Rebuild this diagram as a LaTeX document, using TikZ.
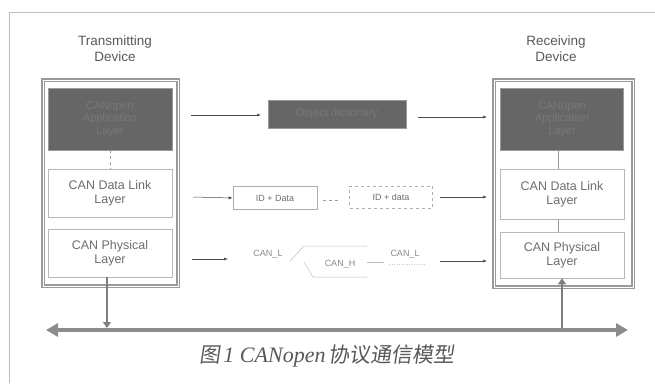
\documentclass[tikz,border=0pt]{standalone}
\usepackage{fontspec}
\setmainfont{Liberation Sans}
\newfontfamily\cjk[FakeSlant=0.15]{Noto Sans CJK SC}
\newfontfamily\capserif{Liberation Serif}
\usetikzlibrary{arrows.meta}
\definecolor{txtgray}{HTML}{6E6E6E}
\definecolor{linegray}{HTML}{9A9A9A}
\definecolor{darkfill}{HTML}{666666}
\definecolor{darktxt}{HTML}{787878}
\definecolor{busgray}{HTML}{8C8C8C}
\tikzset{
  x=1pt, y=-1pt,
  devbox/.style={draw=linegray, line width=1.2pt, double=white, double distance=0.8pt},
  layerbox/.style={draw=linegray!70, line width=0.6pt, fill=white, text=txtgray,
    font=\fontsize{12.5}{14}\selectfont, align=center, inner sep=0pt},
  darkbox/.style={draw=linegray, fill=darkfill, text=darktxt,
    font=\fontsize{11}{12.5}\selectfont, align=center, inner sep=0pt},
  pktbox/.style={draw=linegray!80, line width=0.6pt, fill=white, text=txtgray,
    font=\fontsize{9}{10}\selectfont, inner sep=0pt},
  devlabel/.style={text=black!65, font=\fontsize{13.5}{16}\selectfont, align=center},
  sig/.style={text=txtgray!80, font=\fontsize{9}{10}\selectfont},
  flow/.style={draw=black!70, line width=0.5pt, -{Latex[length=4pt,width=3pt]}},
  link/.style={draw=linegray, line width=0.5pt},
  bus/.style={draw=busgray, line width=4pt, {Triangle[length=12pt,width=13pt]}-{Triangle[length=12pt,width=13pt]}},
  drop/.style={draw=busgray!90!black, line width=2pt}
}
\begin{document}
\begin{tikzpicture}
\useasboundingbox (0,0) rectangle (655,383);
\fill[white] (0,0) rectangle (655,383);
% page frame
\draw[black!25, line width=0.8pt] (9,383) -- (9,12) -- (655,12);

% device titles
\node[devlabel] (ttx) at (115,49) {Transmitting\\Device};
\node[devlabel] (trx) at (556,49) {Receiving\\Device};

% transmitting device
\draw[devbox] (43,80) rectangle (178,286);
\node[darkbox, minimum width=124pt, minimum height=62pt] (tapp) at (110,119) {CANopen\\Application\\Layer};
\node[layerbox, minimum width=124pt, minimum height=48pt] (tdl) at (110,193) {CAN Data Link\\Layer};
\node[layerbox, minimum width=124pt, minimum height=48pt] (tph) at (110,253) {CAN Physical\\Layer};
\draw[link, dashed] (tapp.south) -- (tdl.north);

% receiving device
\draw[devbox] (494,80) rectangle (633,287);
\node[darkbox, minimum width=123pt, minimum height=62pt] (rapp) at (562,119) {CANopen\\Application\\Layer};
\node[layerbox, minimum width=124pt, minimum height=50pt] (rdl) at (562,194) {CAN Data Link\\Layer};
\node[layerbox, minimum width=124pt, minimum height=46pt] (rph) at (562,255) {CAN Physical\\Layer};
\draw[link] (rapp.south -| 558,0) -- (558,169);
\draw[link] (558,219) -- (558,232);

% application level exchange
\node[darkbox, minimum width=138pt, minimum height=28pt] (od) at (337,114) {Object dictionary};
\coordinate (a1) at (191,115);
\coordinate (a0) at (261,115);
\coordinate (a2) at (418,117);
\coordinate (a3) at (487,117);
\draw[flow] (a1) -- (a0);
\draw[flow] (a2) -- (a3);

% data link level exchange
\node[pktbox, minimum width=84pt, minimum height=23pt] (pk1) at (275,198) {ID + Data};
\node[pktbox, dashed, minimum width=83pt, minimum height=22pt] (pk2) at (391,197) {ID + data};
\coordinate (b1) at (193,197);
\coordinate (b2) at (440,197);
\coordinate (b3) at (487,197);
\draw[flow] (b1) -- (pk1.west);
\draw[link, dashed] (pk1.east) ++(6,2) -- ++(18,0);
\draw[flow] (b2) -- (b3);

% physical level signals
\coordinate (c1) at (192,259);
\coordinate (c2) at (228,259);
\coordinate (c3) at (440,261);
\coordinate (c4) at (487,261);
\node[sig] (cl1) at (268,254) {CAN\_L};
\node[sig] (ch) at (340,264) {CAN\_H};
\node[sig] (cl2) at (405,254) {CAN\_L};
\draw[flow] (c1) -- (c2);
\draw[flow] (c3) -- (c4);
\draw[link, black!25] (290,261) -- (304,246) -- (367,246);
\draw[link, black!25] (304,262) -- (313,277) -- (367,277);
\draw[link, black!25] (367,262) -- (384,262);
\draw[link, black!20, dotted] (389,264) -- (425,264);

% bus and drop lines
\coordinate (busL) at (46,330);
\coordinate (busR) at (628,330);
\draw[bus] (busL) -- (busR);
\coordinate (tdrop) at (107,328);
\coordinate (rdrop) at (562,328);
\draw[drop, -{Triangle[length=6pt,width=8pt]}] (tph.south -| tdrop) -- (tdrop);
\draw[drop, -{Triangle[length=6pt,width=8pt]}] (rdrop) -- (rph.south -| rdrop);

% caption
\node[text=black!65, inner sep=0pt] (cap) at (327,356)
  {{\cjk\fontsize{21}{23}\selectfont 图}\ {\capserif\itshape\fontsize{22}{24}\selectfont 1 CANopen}\ {\cjk\fontsize{21}{23}\selectfont 协议通信模型}};
\end{tikzpicture}
\end{document}
